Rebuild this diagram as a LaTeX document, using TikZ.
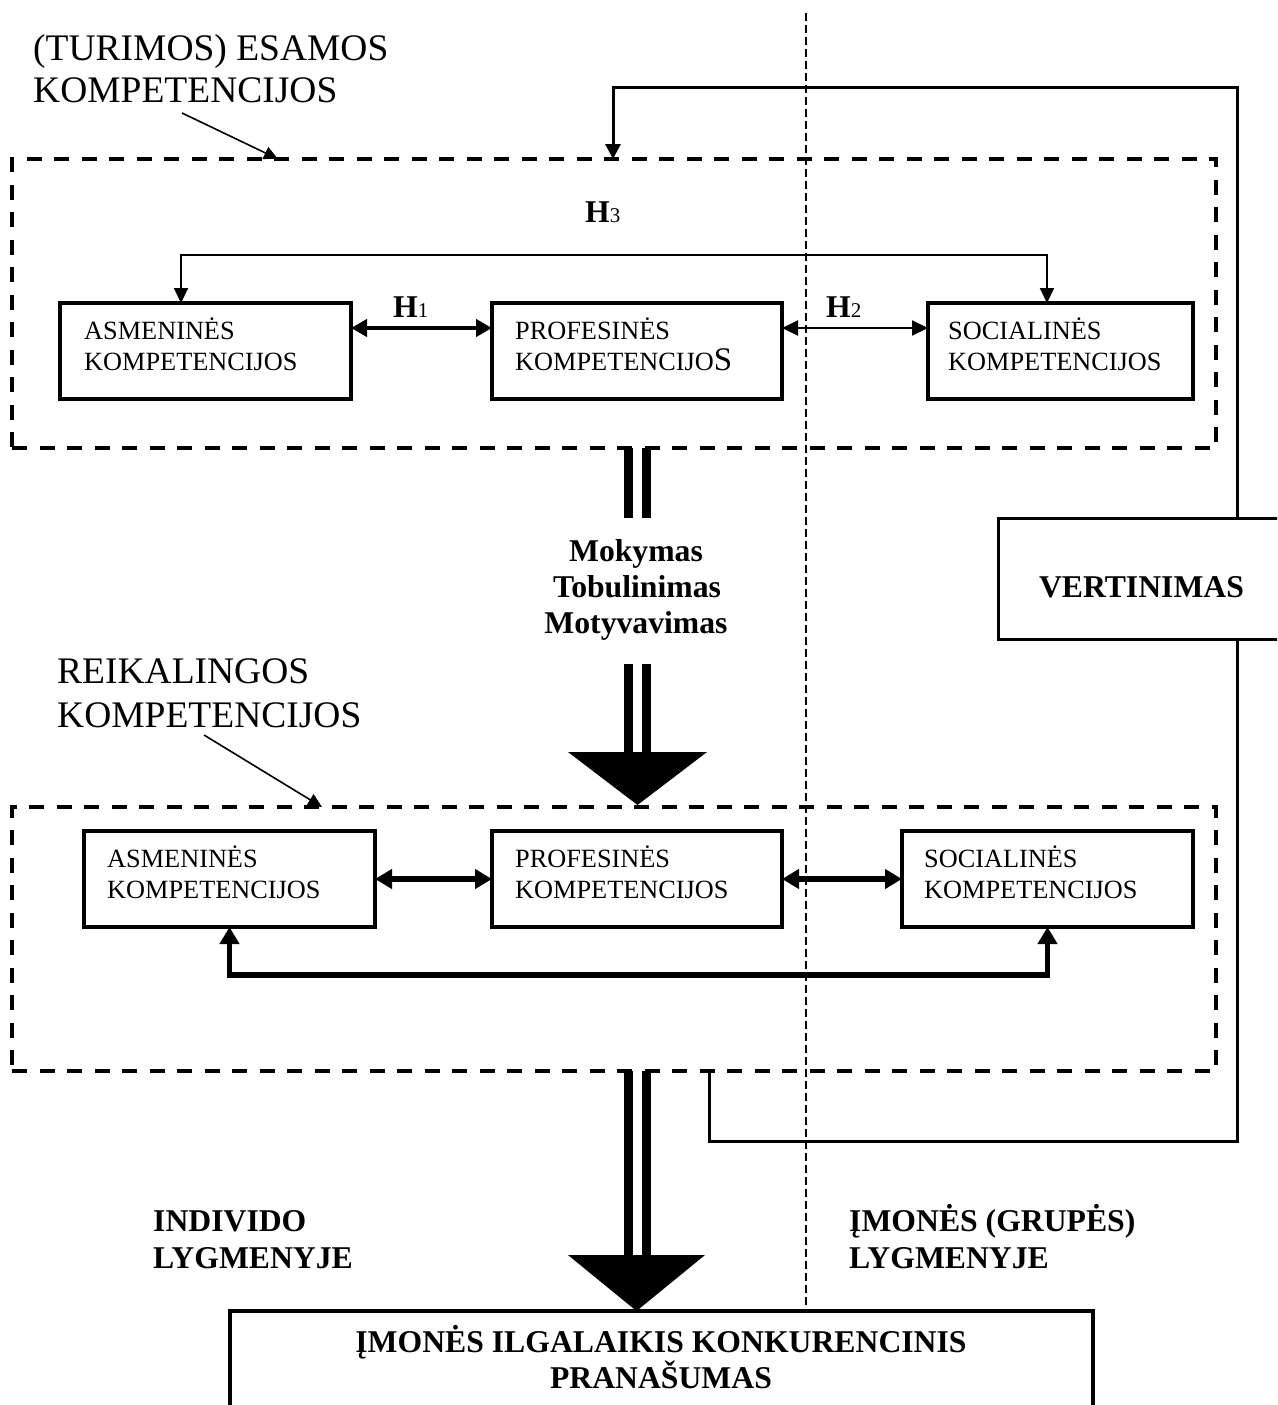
\documentclass[tikz,border=0pt]{standalone}
\usepackage{fontspec}
\setmainfont{Liberation Serif}
\usetikzlibrary{arrows.meta}
\newcommand\hsub[1]{{\fontsize{21}{21}\selectfont\mdseries #1}}
\begin{document}
\begin{tikzpicture}[x=1pt,y=-1pt,
  box/.style={draw, line width=3.5pt, inner sep=0pt, outer sep=0pt},
  dbox/.style={draw, line width=3.5pt, dash pattern=on 15pt off 12.5pt, inner sep=0pt, outer sep=0pt},
  ttl/.style={font=\fontsize{37.5}{44}\selectfont, anchor=base west, inner sep=0pt},
  btxt/.style={font=\fontsize{26.3}{31}\selectfont, anchor=base west, inner sep=0pt},
  bld/.style={font=\fontsize{31.7}{36}\selectfont\bfseries, anchor=base, inner sep=0pt},
  bldl/.style={bld, anchor=base west},
  midline/.style={line width=1.6pt, dash pattern=on 8pt off 4pt},
  ptr/.style={line width=1.6pt, -{Triangle[length=14pt,width=13pt]}},
  thinlink/.style={line width=2pt, {Triangle[length=15pt,width=14pt]}-{Triangle[length=15pt,width=14pt]}},
  midlink/.style={line width=4.5pt, {Triangle[length=16pt,width=17pt]}-{Triangle[length=16pt,width=17pt]}},
  thicklink/.style={line width=5.5pt, {Triangle[length=17pt,width=19pt]}-{Triangle[length=17pt,width=19pt]}},
  loopline/.style={line width=3pt},
  bar/.style={line width=9pt},
]
\useasboundingbox (0,0) rectangle (1277,1405);
\clip (0,0) rectangle (1277,1405);

% divider between individual and group level
\draw[midline] (806,13) -- (806,1310);

% existing competences
\node[ttl] (t1a) at (33,60) {(TURIMOS) ESAMOS};
\node[ttl] (t1b) at (33,102) {KOMPETENCIJOS};
\node[dbox, minimum width=1204pt, minimum height=289pt] (D1) at (614,303.5) {};

\node[box, minimum width=291pt, minimum height=96pt] (A1) at (205.5,351) {};
\node[box, minimum width=290pt, minimum height=96pt] (P1) at (637,351) {};
\node[box, minimum width=265pt, minimum height=96pt] (S1) at (1060.5,351) {};
\node[btxt] (a1t1) at (84,339) {ASMENINĖS};
\node[btxt] (a1t2) at (84,370) {KOMPETENCIJOS};
\node[btxt] (p1t1) at (515,339) {PROFESINĖS};
\node[btxt] (p1t2) at (515,370) {KOMPETENCIJO{\fontsize{33}{33}\selectfont S}};
\node[btxt] (s1t1) at (948,339) {SOCIALINĖS};
\node[btxt] (s1t2) at (948,370) {KOMPETENCIJOS};

\node[bldl] (h3) at (585,222) {H\hsub{3}};
\node[bldl] (h1) at (393,317) {H\hsub{1}};
\node[bldl] (h2) at (826,317) {H\hsub{2}};

\coordinate (h3L) at (181,255);
\coordinate (h3R) at (1047,255);
\coordinate (hy) at (0,328);
\draw[thinlink] (A1.north -| h3L) -- (h3L) -- (h3R) -- (S1.north -| h3R);
\draw[midlink] (A1.east |- hy) -- (P1.west |- hy);
\draw[thinlink, {Triangle[length=16pt,width=15pt]}-{Triangle[length=16pt,width=15pt]}] (P1.east |- hy) -- (S1.west |- hy);

\coordinate (p1s) at (182,113);
\coordinate (p1e) at (278,159);
\draw[ptr] (p1s) -- (p1e);

% training arrow
\draw[bar] (628,448) -- (628,518);
\draw[bar] (646,448) -- (646,518);
\node[bld] (m1) at (636,561) {Mokymas};
\node[bld] (m2) at (637,597) {Tobulinimas};
\node[bld] (m3) at (636,633) {Motyvavimas};
\draw[bar] (628,664) -- (628,753);
\draw[bar] (646,664) -- (646,753);
\fill (568,752) -- (707,752) -- (637.5,805) -- cycle;

% required competences
\node[ttl] (t2a) at (57,683) {REIKALINGOS};
\node[ttl] (t2b) at (57,727) {KOMPETENCIJOS};
\coordinate (p2s) at (204,735);
\coordinate (p2e) at (322,807);
\draw[ptr] (p2s) -- (p2e);
\node[dbox, minimum width=1204pt, minimum height=264pt] (D2) at (614,939) {};

\node[box, minimum width=291pt, minimum height=96pt] (A2) at (229.5,879) {};
\node[box, minimum width=290pt, minimum height=96pt] (P2) at (637,879) {};
\node[box, minimum width=291pt, minimum height=96pt] (S2) at (1047.5,879) {};
\node[btxt] (a2t1) at (107,867) {ASMENINĖS};
\node[btxt] (a2t2) at (107,898) {KOMPETENCIJOS};
\node[btxt] (p2t1) at (515,867) {PROFESINĖS};
\node[btxt] (p2t2) at (515,898) {KOMPETENCIJOS};
\node[btxt] (s2t1) at (924,867) {SOCIALINĖS};
\node[btxt] (s2t2) at (924,898) {KOMPETENCIJOS};

\draw[thicklink] (A2.east) -- (P2.west);
\draw[thicklink] (P2.east) -- (S2.west);
\coordinate (r2L) at (229.5,975);
\coordinate (r2R) at (1047.5,975);
\draw[thicklink] (A2.south) -- (r2L) -- (r2R) -- (S2.south);

% evaluation feedback loop
\node[box, line width=3pt, minimum width=302pt, minimum height=121pt] (vert) at (1149,578.5) {};
\node[bld] (vt) at (1141.5,597) {VERTINIMAS};
\coordinate (fb1) at (709,1141);
\coordinate (fb2) at (1237,1141);
\coordinate (fb3) at (1237,87);
\coordinate (fb4) at (613,87);
\draw[loopline] (D2.south -| fb1) -- (fb1) -- (fb2) -- (vert.south -| fb2);
\draw[loopline, -{Triangle[length=15pt,width=15pt]}] (vert.north -| fb3) -- (fb3) -- (fb4) -- (D1.north -| fb4);

% result
\draw[bar] (628,1071) -- (628,1256);
\draw[bar] (646,1071) -- (646,1256);
\fill (568,1255) -- (705,1255) -- (636.5,1311) -- cycle;
\node[bldl] (ia) at (153,1231) {INDIVIDO};
\node[bldl] (ib) at (153,1268) {LYGMENYJE};
\node[bldl] (ga) at (849,1231) {ĮMONĖS (GRUPĖS)};
\node[bldl] (gb) at (849,1268) {LYGMENYJE};
\node[box, minimum width=863pt, minimum height=140pt] (goal) at (661.5,1381) {};
\node[bld] (goal1) at (661,1352) {ĮMONĖS ILGALAIKIS KONKURENCINIS};
\node[bld] (goal2) at (661,1388) {PRANAŠUMAS};
\end{tikzpicture}
\end{document}
